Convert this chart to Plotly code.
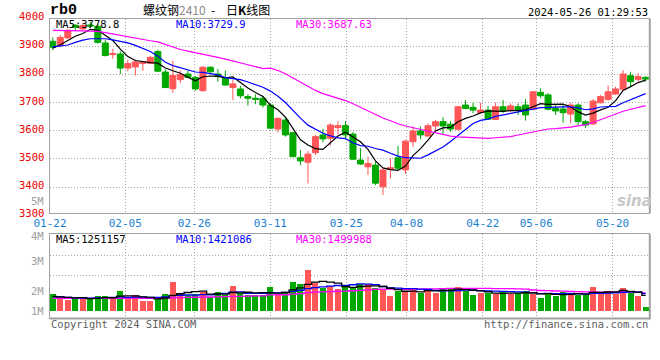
import plotly.graph_objects as go

# ---------------- data ----------------
tick_labels = ["01-22", "02-05", "02-26", "03-11", "03-25", "04-08", "04-22", "05-06", "05-20"]

opens = [3917, 3905, 3929, 3974, 3961, 3975, 3970, 3911, 3870, 3872,
         3822, 3826, 3838, 3839, 3881, 3808, 3749, 3781, 3801, 3789,
         3742, 3825, 3801, 3786, 3753, 3748, 3721, 3715, 3715, 3691,
         3606, 3638, 3593, 3504, 3488, 3522, 3585, 3573, 3611, 3618,
         3588, 3496, 3472, 3478, 3401, 3463, 3504, 3461, 3561, 3599,
         3581, 3617, 3632, 3623, 3605, 3691, 3683, 3664, 3673, 3640,
         3685, 3673, 3685, 3691, 3677, 3736, 3727, 3679, 3677, 3659,
         3691, 3632, 3624, 3699, 3711, 3730, 3747, 3795, 3782, 3789]
highs = [3931, 3940, 3960, 3978, 3982, 3987, 3977, 3922, 3891, 3882,
         3852, 3852, 3848, 3865, 3887, 3817, 3848, 3814, 3813, 3794,
         3829, 3829, 3819, 3813, 3780, 3759, 3729, 3729, 3724, 3697,
         3646, 3650, 3596, 3532, 3528, 3585, 3606, 3626, 3634, 3634,
         3595, 3538, 3508, 3490, 3470, 3502, 3546, 3567, 3614, 3614,
         3626, 3638, 3648, 3634, 3688, 3709, 3699, 3699, 3688, 3699,
         3709, 3697, 3697, 3712, 3741, 3750, 3733, 3691, 3691, 3699,
         3697, 3638, 3712, 3727, 3760, 3756, 3815, 3809, 3804, 3794]
lows = [3885, 3896, 3926, 3957, 3957, 3964, 3909, 3863, 3855, 3801,
        3811, 3796, 3812, 3838, 3808, 3751, 3734, 3769, 3786, 3742,
        3738, 3805, 3774, 3760, 3709, 3715, 3689, 3694, 3682, 3606,
        3594, 3579, 3507, 3478, 3413, 3514, 3559, 3547, 3587, 3573,
        3496, 3478, 3443, 3407, 3372, 3431, 3461, 3446, 3543, 3570,
        3579, 3600, 3585, 3596, 3602, 3676, 3662, 3662, 3638, 3638,
        3663, 3667, 3656, 3636, 3673, 3715, 3673, 3656, 3628, 3626,
        3620, 3609, 3620, 3697, 3706, 3727, 3744, 3756, 3774, 3774]
closes = [3896, 3931, 3956, 3967, 3973, 3971, 3913, 3867, 3874, 3822,
          3838, 3844, 3844, 3860, 3811, 3753, 3796, 3799, 3789, 3748,
          3825, 3809, 3792, 3762, 3766, 3724, 3715, 3711, 3691, 3609,
          3644, 3585, 3508, 3493, 3517, 3579, 3571, 3620, 3618, 3585,
          3499, 3482, 3484, 3414, 3461, 3469, 3467, 3563, 3599, 3585,
          3618, 3632, 3617, 3606, 3685, 3679, 3673, 3673, 3641, 3685,
          3670, 3688, 3673, 3656, 3738, 3724, 3676, 3670, 3664, 3691,
          3632, 3620, 3705, 3721, 3738, 3748, 3801, 3774, 3792, 3783]
volumes = [1380000, 1112000, 893000, 1056000, 950000, 999000, 1218000, 1211000, 1002000, 1624000,
           1056000, 1275000, 812000, 806000, 999000, 1380000, 2355000, 1462000, 1324000, 1385000,
           1543000, 1108000, 1547000, 1275000, 2030000, 1437000, 1318000, 1322000, 1326000, 1949000,
           1376000, 1540000, 2349000, 2192000, 3329000, 2298000, 1868000, 2026000, 1786000, 1973000,
           1968000, 2195000, 2188000, 1843000, 1762000, 1242000, 1624000, 1543000, 1868000, 1486000,
           1790000, 1482000, 1781000, 1872000, 1945000, 1620000, 1299000, 1458000, 1490000, 1381000,
           1538000, 1376000, 1488000, 1626000, 1383000, 1054000, 1484000, 1220000, 1545000, 1487000,
           1296000, 1301000, 1947000, 1540000, 1628000, 1382000, 1867000, 1545000, 1216000, 330000]

# moving-average values before a full window exists
ma5_head = [3893, 3905, 3920, 3935]
ma10_head = [3897, 3900, 3904, 3913, 3921, 3926, 3927, 3926, 3922]
ma30_head = [3956, 3956, 3955, 3955, 3954, 3953, 3952, 3948, 3943, 3938,
             3932, 3928, 3923, 3919, 3915, 3906, 3897, 3888, 3882, 3877,
             3871, 3865, 3860, 3854, 3848, 3841, 3834, 3827, 3820]
vma5_head = [1180000, 1150000, 1100000, 1060000]
vma10_head = [1160000, 1140000, 1100000, 1070000, 1050000, 1050000, 1070000, 1090000, 1100000]
vma30_head = [1030000, 1028000, 1025000, 1027000, 1024000, 1022000, 1026000, 1029000, 1031000, 1036000,
              1034000, 1038000, 1035000, 1031000, 1033000, 1040000, 1075000, 1090000, 1102000, 1115000,
              1130000, 1135000, 1150000, 1160000, 1185000, 1195000, 1210000, 1222000, 1235000]

price_labels = [4000, 3900, 3800, 3700, 3600, 3500, 3400, 3300]
vol_labels = ["5M", "4M", "3M", "2M", "1M"]

ma_price_text = ["MA5:3778.8", "MA10:3729.9", "MA30:3687.63"]
ma_vol_text = ["MA5:1251157", "MA10:1421086", "MA30:1499988"]


def moving_avg(vals, n, head):
    out = list(head)
    for i in range(n - 1, len(vals)):
        out.append(sum(vals[i - n + 1:i + 1]) / n)
    return out


N = len(closes)
xs = list(range(N))

# ---------------- layout constants ----------------
W, H = 660, 360
RED = "#ff5757"
GREEN = "#00a800"
GRID = "#a8a8a8"
BORDER = "#a0a0a0"
MONO = "DejaVu Sans Mono"

PX_L, PX_R = 50, 649.3
MAIN_T, MAIN_B = 19, 213
VOL_T, VOL_B = 234, 318
X_RANGE = [-0.373, 79.49]
Y_RANGE = [3308.2, 3996.1]
V_RANGE = [-568000, 6252000]
tick_pos = [-0.37, 9.66, 18.86, 29.0, 39.11, 47.14, 57.29, 64.43, 74.61]


def px_x(px):
    return px / W


def px_y(py):
    return 1 - py / H


def price_paper(v):
    frac = (v - Y_RANGE[0]) / (Y_RANGE[1] - Y_RANGE[0])
    return px_y(MAIN_B) + frac * (px_y(MAIN_T) - px_y(MAIN_B))


def vol_from_px(py):
    frac = (VOL_B - py) / (VOL_B - VOL_T)
    return V_RANGE[0] + frac * (V_RANGE[1] - V_RANGE[0])


fig = go.Figure()

fig.add_trace(go.Candlestick(
    x=xs, open=opens, high=highs, low=lows, close=closes,
    increasing=dict(line=dict(color=RED, width=1), fillcolor=RED),
    decreasing=dict(line=dict(color=GREEN, width=1), fillcolor=GREEN),
    whiskerwidth=0, showlegend=False, hoverinfo="skip",
    xaxis="x", yaxis="y"))

for vals, n, head, col in [(closes, 5, ma5_head, "#000000"),
                           (closes, 10, ma10_head, "#0000ff"),
                           (closes, 30, ma30_head, "#ff00ff")]:
    fig.add_trace(go.Scatter(x=xs, y=moving_avg(vals, n, head), mode="lines",
                             line=dict(color=col, width=1.2), showlegend=False,
                             hoverinfo="skip", xaxis="x", yaxis="y"))

bar_colors = [RED if c >= o else GREEN for o, c in zip(opens, closes)]
fig.add_trace(go.Bar(x=xs, y=volumes, marker=dict(color=bar_colors, line=dict(width=0)),
                     width=0.8, showlegend=False, hoverinfo="skip", xaxis="x2", yaxis="y2"))

for vals, n, head, col in [(volumes, 30, vma30_head, "#ff00ff"),
                           (volumes, 10, vma10_head, "#0000ff"),
                           (volumes, 5, vma5_head, "#000000")]:
    fig.add_trace(go.Scatter(x=xs, y=moving_avg(vals, n, head), mode="lines",
                             line=dict(color=col, width=1.3, shape="hvh"), showlegend=False,
                             hoverinfo="skip", xaxis="x2", yaxis="y2"))

xdom = [px_x(PX_L), px_x(PX_R)]
common_x = dict(range=X_RANGE, domain=xdom, tickmode="array", tickvals=tick_pos,
                showgrid=True, gridcolor=GRID, griddash="1px,2px", gridwidth=1,
                zeroline=False, showline=True, linecolor=BORDER, linewidth=1, mirror=True,
                ticks="", fixedrange=True, automargin=False)

fig.update_layout(
    width=W, height=H,
    margin=dict(l=0, r=0, t=0, b=0, pad=0, autoexpand=False),
    paper_bgcolor="white", plot_bgcolor="white", showlegend=False,
    boxgap=0.1, boxgroupgap=0.11, bargap=0,
    xaxis=dict(**common_x, anchor="y", ticktext=tick_labels,
               tickfont=dict(family=MONO, size=11, color="#1a7fd0"),
               rangeslider=dict(visible=False)),
    yaxis=dict(domain=[px_y(MAIN_B), px_y(MAIN_T)], range=Y_RANGE, anchor="x",
               tickmode="array", tickvals=price_labels[1:-1], showticklabels=False,
               showgrid=True, gridcolor=GRID, griddash="1px,2px", gridwidth=1,
               zeroline=False, showline=True, linecolor=BORDER, mirror=True, ticks="",
               fixedrange=True, automargin=False),
    xaxis2=dict(**common_x, anchor="y2", showticklabels=False),
    yaxis2=dict(domain=[px_y(VOL_B), px_y(VOL_T)], range=V_RANGE, anchor="x2",
                tickmode="array", tickvals=[vol_from_px(255), vol_from_px(275)],
                showticklabels=False, showgrid=True, gridcolor=GRID, griddash="1px,2px",
                gridwidth=1, zeroline=False, showline=True, linecolor=BORDER, mirror=True,
                ticks="", fixedrange=True, automargin=False),
)

# heavier right / bottom frame edges as in the original
shapes = []
for top, bot in [(MAIN_T, MAIN_B), (VOL_T, VOL_B)]:
    shapes.append(dict(type="line", xref="paper", yref="paper",
                       x0=px_x(PX_R + 0.5), x1=px_x(PX_R + 0.5), y0=px_y(bot), y1=px_y(top),
                       line=dict(color=BORDER, width=2)))
shapes.append(dict(type="line", xref="paper", yref="paper",
                   x0=px_x(PX_L), x1=px_x(PX_R + 1.5), y0=px_y(VOL_B + 0.5), y1=px_y(VOL_B + 0.5),
                   line=dict(color=BORDER, width=2)))
fig.update_layout(shapes=shapes)

ann = []
# price labels
for v in price_labels:
    ann.append(dict(x=px_x(46), y=price_paper(v), xref="paper", yref="paper",
                    xanchor="right", yanchor="middle", yshift=2, showarrow=False,
                    text=str(v), font=dict(family=MONO, size=10.5, color="#ee0000")))
# volume labels
for t, py in zip(vol_labels, [201, 235.5, 261, 291, 311]):
    ann.append(dict(x=px_x(46), y=px_y(py), xref="paper", yref="paper",
                    xanchor="right", yanchor="middle", showarrow=False,
                    text=t, font=dict(family=MONO, size=10.5, color="#a0a0a0")))
# MA texts
for t, col, px in zip(ma_price_text, ["#000000", "#0000ff", "#ff00ff"], [54, 174, 294]):
    ann.append(dict(x=px_x(px), y=px_y(24), xref="paper", yref="paper",
                    xanchor="left", yanchor="middle", showarrow=False,
                    text=t, font=dict(family=MONO, size=10.5, color=col)))
for t, col, px in zip(ma_vol_text, ["#000000", "#0000ff", "#ff00ff"], [54, 174, 294]):
    ann.append(dict(x=px_x(px), y=px_y(238.5), xref="paper", yref="paper",
                    xanchor="left", yanchor="middle", showarrow=False,
                    text=t, font=dict(family=MONO, size=10.5, color=col)))
# header
ann.append(dict(x=px_x(48), y=px_y(10), xref="paper", yref="paper", xanchor="left",
                yanchor="middle", showarrow=False, text="<b>rb0</b>",
                font=dict(family="Liberation Mono", size=15, color="#000000")))
ann.append(dict(x=px_x(141), y=px_y(9.5), xref="paper", yref="paper", xanchor="left",
                yanchor="middle", showarrow=False,
                text="螺纹钢<span style='color:#8a8a8a'>2410</span>\u00a0\u00a0-\u00a0\u00a0\u00a0\u00a0日<b>K</b>线图",
                font=dict(family="Noto Sans CJK SC", size=12, color="#000000")))
ann.append(dict(x=px_x(649.5), y=px_y(11.5), xref="paper", yref="paper", xanchor="right",
                yanchor="middle", showarrow=False, text="2024-05-26 01:29:53",
                font=dict(family=MONO, size=10.5, color="#000000")))
# footer
ann.append(dict(x=px_x(49), y=px_y(324), xref="paper", yref="paper", xanchor="left",
                yanchor="middle", showarrow=False, text="Copyright 2024 SINA.COM",
                font=dict(family=MONO, size=10.5, color="#606060")))
ann.append(dict(x=px_x(650), y=px_y(324), xref="paper", yref="paper", xanchor="right",
                yanchor="middle", showarrow=False, text="http://finance.sina.com.cn",
                font=dict(family=MONO, size=10.5, color="#606060")))
# watermark
ann.append(dict(x=px_x(634), y=px_y(201), xref="paper", yref="paper", xanchor="center",
                yanchor="middle", showarrow=False, text="<b><i>sina</i></b>",
                font=dict(family="DejaVu Sans", size=15, color="#c8c8c8")))
fig.update_layout(annotations=ann)

fig.write_html("out.html", config={"displayModeBar": False, "staticPlot": True},
               post_script="document.body.style.margin='0px';document.body.style.padding='0px';")
